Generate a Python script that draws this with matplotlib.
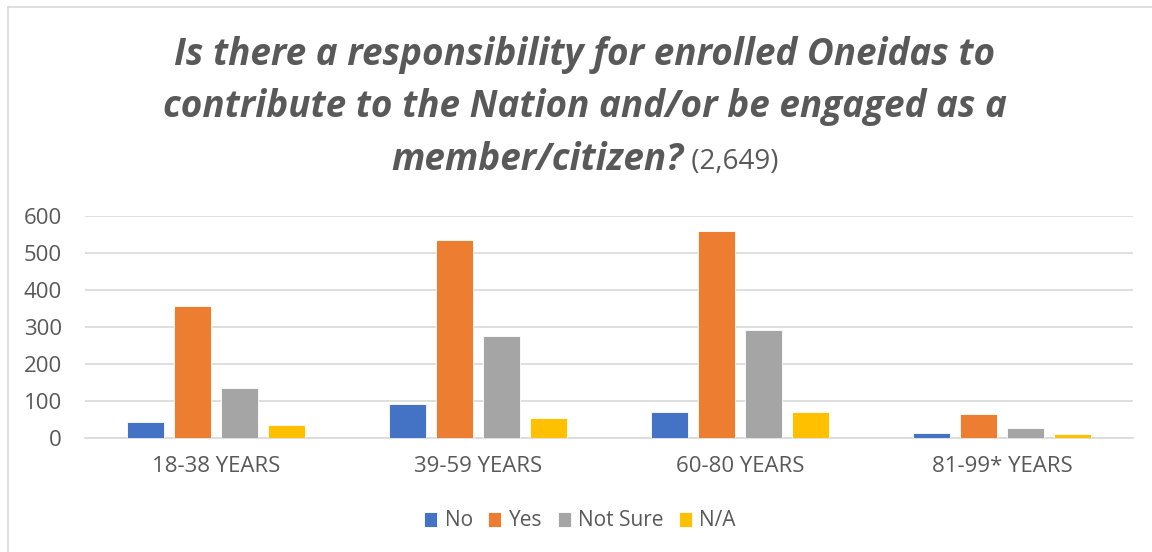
import matplotlib
matplotlib.use("Agg")
import matplotlib.pyplot as plt
import numpy as np
from matplotlib.lines import Line2D

categories = ["18-38 YEARS", "39-59 YEARS", "60-80 YEARS", "81-99* YEARS"]
series_names = ["No", "Yes", "Not Sure", "N/A"]
no_vals = [41, 90, 70, 13]
yes_vals = [355, 536, 560, 64]
notsure_vals = [134, 275, 291, 27]
na_vals = [33, 52, 68, 10]
yticks = [0, 100, 200, 300, 400, 500, 600]
colors = ["#4472C4", "#ED7D31", "#A5A5A5", "#FFC000"]

FONT = "Open Sans"
TXT = "#595959"

fig = plt.figure(figsize=(11.52, 5.52), dpi=100)
W, H = 1152, 552

def fx(px): return px / W
def fy(py): return 1 - py / H

# chart frame (left and top border)
fig.add_artist(Line2D([fx(8), fx(8)], [fy(7), 0], color="#d9d9d9", lw=1.2))
fig.add_artist(Line2D([fx(8), 1], [fy(7), fy(7)], color="#d9d9d9", lw=1.2))
fig.text(fx(5), fy(-3), "FIGURE 15", color="#9b1c1c", fontsize=11, family=FONT,
         ha="left", va="center")

ax = fig.add_axes([fx(85), fy(437.5), fx(1133) - fx(85), (437.5 - 216) / H])

data = [no_vals, yes_vals, notsure_vals, na_vals]
x = np.arange(len(categories))
step = 0.179
bw = 0.141
for i, (vals, c, name) in enumerate(zip(data, colors, series_names)):
    ax.bar(x + (i - 1.5) * step, vals, width=bw, color=c, edgecolor="white",
           linewidth=0.6, label=name, zorder=3)

ax.set_xlim(-0.5, len(categories) - 0.5)
ax.set_ylim(0, 600)
ax.set_yticks(yticks)
ax.set_yticklabels([str(t) for t in yticks])
ax.set_xticks(x)
ax.set_xticklabels(categories)
ax.grid(axis="y", color="#d9d9d9", lw=1.2, zorder=0)
for s in ["top", "right", "left"]:
    ax.spines[s].set_visible(False)
ax.spines["bottom"].set_color("#d9d9d9")
ax.spines["bottom"].set_linewidth(1.2)
ax.tick_params(axis="both", length=0, colors=TXT, labelsize=16)
ax.tick_params(axis="y", pad=16.5)
ax.tick_params(axis="x", pad=13)
for lab in ax.get_xticklabels() + ax.get_yticklabels():
    lab.set_family(FONT)

leg = fig.legend(loc="center", bbox_to_anchor=(fx(580), fy(521)), ncol=4, frameon=False,
                 prop={"family": FONT, "size": 15}, handlelength=0.62, handleheight=0.7,
                 handletextpad=0.35, columnspacing=0.75, labelcolor=TXT)

# title
tkw = dict(family=FONT, fontsize=26.6, fontweight="bold", style="italic", color=TXT,
           ha="center", va="center")
fig.text(fx(585), fy(55), "Is there a responsibility for enrolled Oneidas to", **tkw)
fig.text(fx(585), fy(107), "contribute to the Nation and/or be engaged as a", **tkw)

fig.canvas.draw()
r = fig.canvas.get_renderer()
t1 = fig.text(0, fy(160), "member/citizen?", family=FONT, fontsize=26.6, fontweight="bold",
              style="italic", color=TXT, ha="left", va="center")
t2 = fig.text(0, fy(160), " (2,649)", family=FONT, fontsize=20, color=TXT,
              ha="left", va="center")
w1 = t1.get_window_extent(r).width
w2 = t2.get_window_extent(r).width
left = 585 - (w1 + w2) / 2
t1.set_x(fx(left))
t2.set_x(fx(left + w1))
t2.set_y(fy(162))

fig.savefig("out.png", dpi=100)
